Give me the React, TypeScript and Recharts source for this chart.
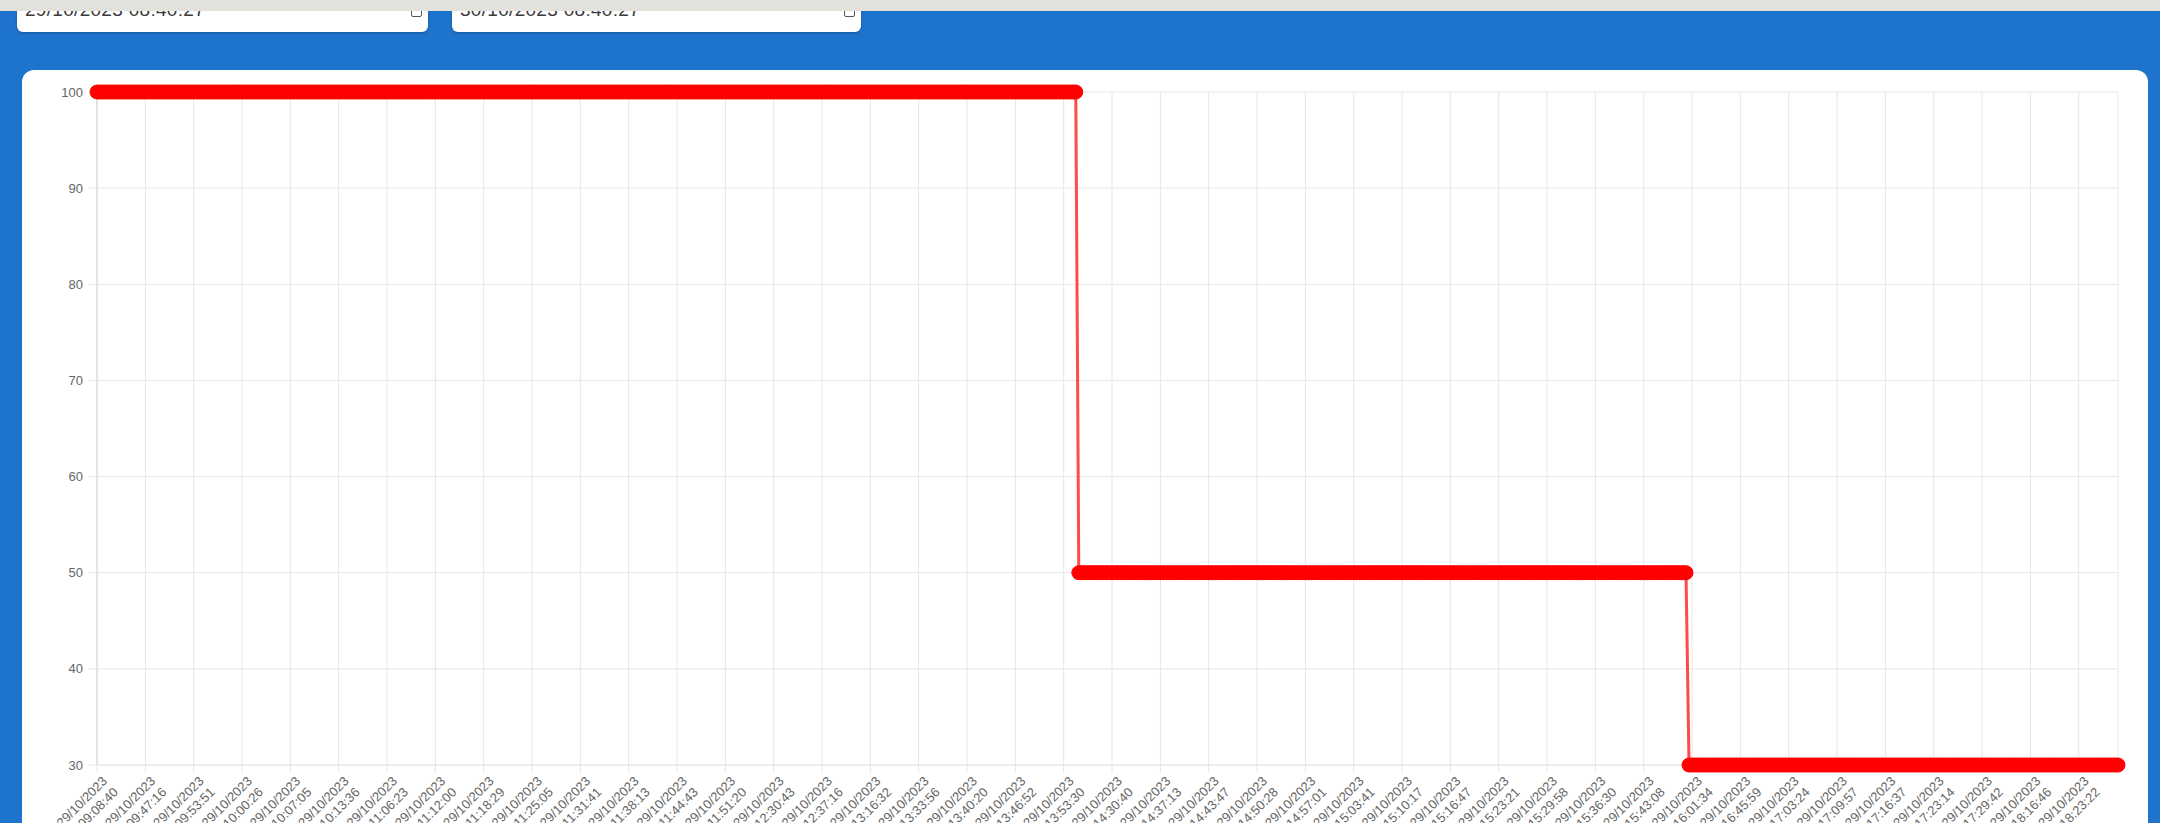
import { LineChart, Line, XAxis, YAxis, CartesianGrid } from "recharts";

// one reading every ~25 s, 16 readings between labelled ticks
const readings: number[] = [
    100, 100, 100, 100, 100, 100, 100, 100, 100, 100, 100, 100, 100, 100, 100, 100,
    100, 100, 100, 100, 100, 100, 100, 100, 100, 100, 100, 100, 100, 100, 100, 100,
    100, 100, 100, 100, 100, 100, 100, 100, 100, 100, 100, 100, 100, 100, 100, 100,
    100, 100, 100, 100, 100, 100, 100, 100, 100, 100, 100, 100, 100, 100, 100, 100,
    100, 100, 100, 100, 100, 100, 100, 100, 100, 100, 100, 100, 100, 100, 100, 100,
    100, 100, 100, 100, 100, 100, 100, 100, 100, 100, 100, 100, 100, 100, 100, 100,
    100, 100, 100, 100, 100, 100, 100, 100, 100, 100, 100, 100, 100, 100, 100, 100,
    100, 100, 100, 100, 100, 100, 100, 100, 100, 100, 100, 100, 100, 100, 100, 100,
    100, 100, 100, 100, 100, 100, 100, 100, 100, 100, 100, 100, 100, 100, 100, 100,
    100, 100, 100, 100, 100, 100, 100, 100, 100, 100, 100, 100, 100, 100, 100, 100,
    100, 100, 100, 100, 100, 100, 100, 100, 100, 100, 100, 100, 100, 100, 100, 100,
    100, 100, 100, 100, 100, 100, 100, 100, 100, 100, 100, 100, 100, 100, 100, 100,
    100, 100, 100, 100, 100, 100, 100, 100, 100, 100, 100, 100, 100, 100, 100, 100,
    100, 100, 100, 100, 100, 100, 100, 100, 100, 100, 100, 100, 100, 100, 100, 100,
    100, 100, 100, 100, 100, 100, 100, 100, 100, 100, 100, 100, 100, 100, 100, 100,
    100, 100, 100, 100, 100, 100, 100, 100, 100, 100, 100, 100, 100, 100, 100, 100,
    100, 100, 100, 100, 100, 100, 100, 100, 100, 100, 100, 100, 100, 100, 100, 100,
    100, 100, 100, 100, 100, 100, 100, 100, 100, 100, 100, 100, 100, 100, 100, 100,
    100, 100, 100, 100, 100, 100, 100, 100, 100, 100, 100, 100, 100, 100, 100, 100,
    100, 100, 100, 100, 100, 100, 100, 100, 100, 100, 100, 100, 100, 100, 100, 100,
    100, 100, 100, 100, 100, 50, 50, 50, 50, 50, 50, 50, 50, 50, 50, 50,
    50, 50, 50, 50, 50, 50, 50, 50, 50, 50, 50, 50, 50, 50, 50, 50,
    50, 50, 50, 50, 50, 50, 50, 50, 50, 50, 50, 50, 50, 50, 50, 50,
    50, 50, 50, 50, 50, 50, 50, 50, 50, 50, 50, 50, 50, 50, 50, 50,
    50, 50, 50, 50, 50, 50, 50, 50, 50, 50, 50, 50, 50, 50, 50, 50,
    50, 50, 50, 50, 50, 50, 50, 50, 50, 50, 50, 50, 50, 50, 50, 50,
    50, 50, 50, 50, 50, 50, 50, 50, 50, 50, 50, 50, 50, 50, 50, 50,
    50, 50, 50, 50, 50, 50, 50, 50, 50, 50, 50, 50, 50, 50, 50, 50,
    50, 50, 50, 50, 50, 50, 50, 50, 50, 50, 50, 50, 50, 50, 50, 50,
    50, 50, 50, 50, 50, 50, 50, 50, 50, 50, 50, 50, 50, 50, 50, 50,
    50, 50, 50, 50, 50, 50, 50, 50, 50, 50, 50, 50, 50, 50, 50, 50,
    50, 50, 50, 50, 50, 50, 50, 50, 50, 50, 50, 50, 50, 50, 50, 50,
    50, 50, 50, 50, 50, 50, 50, 50, 50, 50, 50, 50, 50, 50, 50, 30,
    30, 30, 30, 30, 30, 30, 30, 30, 30, 30, 30, 30, 30, 30, 30, 30,
    30, 30, 30, 30, 30, 30, 30, 30, 30, 30, 30, 30, 30, 30, 30, 30,
    30, 30, 30, 30, 30, 30, 30, 30, 30, 30, 30, 30, 30, 30, 30, 30,
    30, 30, 30, 30, 30, 30, 30, 30, 30, 30, 30, 30, 30, 30, 30, 30,
    30, 30, 30, 30, 30, 30, 30, 30, 30, 30, 30, 30, 30, 30, 30, 30,
    30, 30, 30, 30, 30, 30, 30, 30, 30, 30, 30, 30, 30, 30, 30, 30,
    30, 30, 30, 30, 30, 30, 30, 30, 30, 30, 30, 30, 30, 30, 30, 30,
    30, 30, 30, 30, 30, 30, 30, 30, 30, 30, 30, 30, 30, 30, 30, 30,
    30, 30, 30, 30, 30, 30, 30, 30, 30, 30, 30, 30, 30, 30,
];

const POINTS_PER_TICK = 16;

const tickDate = "29/10/2023";

const tickTimes: string[] = [
    "09:08:40", "09:47:16", "09:53:51", "10:00:26", "10:07:05", "10:13:36",
    "11:06:23", "11:12:00", "11:18:29", "11:25:05", "11:31:41", "11:38:13",
    "11:44:43", "11:51:20", "12:30:43", "12:37:16", "13:16:32", "13:33:56",
    "13:40:20", "13:46:52", "13:53:30", "14:30:40", "14:37:13", "14:43:47",
    "14:50:28", "14:57:01", "15:03:41", "15:10:17", "15:16:47", "15:23:21",
    "15:29:58", "15:36:30", "15:43:08", "16:01:34", "16:45:59", "17:03:24",
    "17:09:57", "17:16:37", "17:23:14", "17:29:42", "18:16:46", "18:23:22",
];

const yTicks = [30, 40, 50, 60, 70, 80, 90, 100];

const startValue = "29/10/2023 08:40:27";
const endValue = "30/10/2023 08:40:27";

const data = readings.map((v, i) => ({ i, v }));
const tickPositions = tickTimes.map((_, k) => k * POINTS_PER_TICK);

const FONT = "'Liberation Sans', Arial, Helvetica, sans-serif";
const BLUE = "#1e74cc";
const GRID = "#e6e6e6";

function TimeTick(props: any) {
    const { x, y, payload } = props;
    const k = Math.round(payload.value / POINTS_PER_TICK);
    return (
        <g transform={`translate(${x + 4},${y})`}>
            <text
                transform="rotate(-45)"
                textAnchor="end"
                fontSize={13}
                fontFamily={FONT}
                fill="#666"
            >
                <tspan x={0} dy="0.75em">{tickDate}</tspan>
                <tspan x={0} dy="1.2em">{tickTimes[k]}</tspan>
            </text>
        </g>
    );
}

function DateInput({ left, width, value }: { left: number; width: number; value: string }) {
    return (
        <div
            style={{
                position: "absolute",
                left,
                top: -20,
                width,
                height: 52,
                background: "#fff",
                borderRadius: 6,
                boxShadow: "0 1px 3px rgba(0,0,0,0.25)",
            }}
        >
            <span
                style={{
                    position: "absolute",
                    left: 8,
                    top: 19,
                    fontFamily: FONT,
                    fontSize: 19,
                    color: "#3a3a3a",
                    letterSpacing: 0.3,
                }}
            >
                {value}
            </span>
            <span
                style={{
                    position: "absolute",
                    right: 6,
                    top: 24,
                    width: 9,
                    height: 11,
                    border: "1.5px solid #555",
                    borderRadius: 2,
                }}
            />
        </div>
    );
}

export default function App() {
    return (
        <div
            style={{
                position: "absolute",
                left: 0,
                top: 0,
                width: 2160,
                height: 823,
                background: BLUE,
                overflow: "hidden",
            }}
        >
            <div
                style={{
                    position: "absolute",
                    left: 22,
                    top: 70,
                    width: 2126,
                    height: 800,
                    background: "#fff",
                    borderRadius: 12,
                }}
            />
            <div style={{ position: "absolute", left: 0, top: 0 }}>
                <LineChart
                    width={2160}
                    height={900}
                    data={data}
                    margin={{ top: 92, right: 42, bottom: 0, left: 0 }}
                >
                    <CartesianGrid stroke={GRID} />
                    <XAxis
                        type="number"
                        dataKey="i"
                        domain={[0, readings.length - 1]}
                        ticks={tickPositions}
                        interval={0}
                        height={135}
                        tickSize={8}
                        tickMargin={2}
                        tickLine={{ stroke: GRID }}
                        axisLine={{ stroke: GRID }}
                        tick={<TimeTick />}
                    />
                    <YAxis
                        type="number"
                        domain={[30, 100]}
                        ticks={yTicks}
                        interval={0}
                        width={97}
                        tickSize={8}
                        tickMargin={6}
                        tickLine={{ stroke: GRID }}
                        axisLine={{ stroke: "#d4d4d4" }}
                        tick={{ fontSize: 13, fill: "#666", fontFamily: FONT }}
                    />
                    <Line
                        type="linear"
                        dataKey="v"
                        stroke="#ff4a4a"
                        strokeWidth={3}
                        dot={{ r: 7, fill: "#ff0000", stroke: "#ff0000", strokeWidth: 1 }}
                        isAnimationActive={false}
                    />
                </LineChart>
            </div>
            <DateInput left={17} width={411} value={startValue} />
            <DateInput left={452} width={409} value={endValue} />
            <div
                style={{
                    position: "absolute",
                    left: 0,
                    top: 0,
                    width: 2160,
                    height: 11,
                    background: "#e2e1dc",
                }}
            />
        </div>
    );
}
